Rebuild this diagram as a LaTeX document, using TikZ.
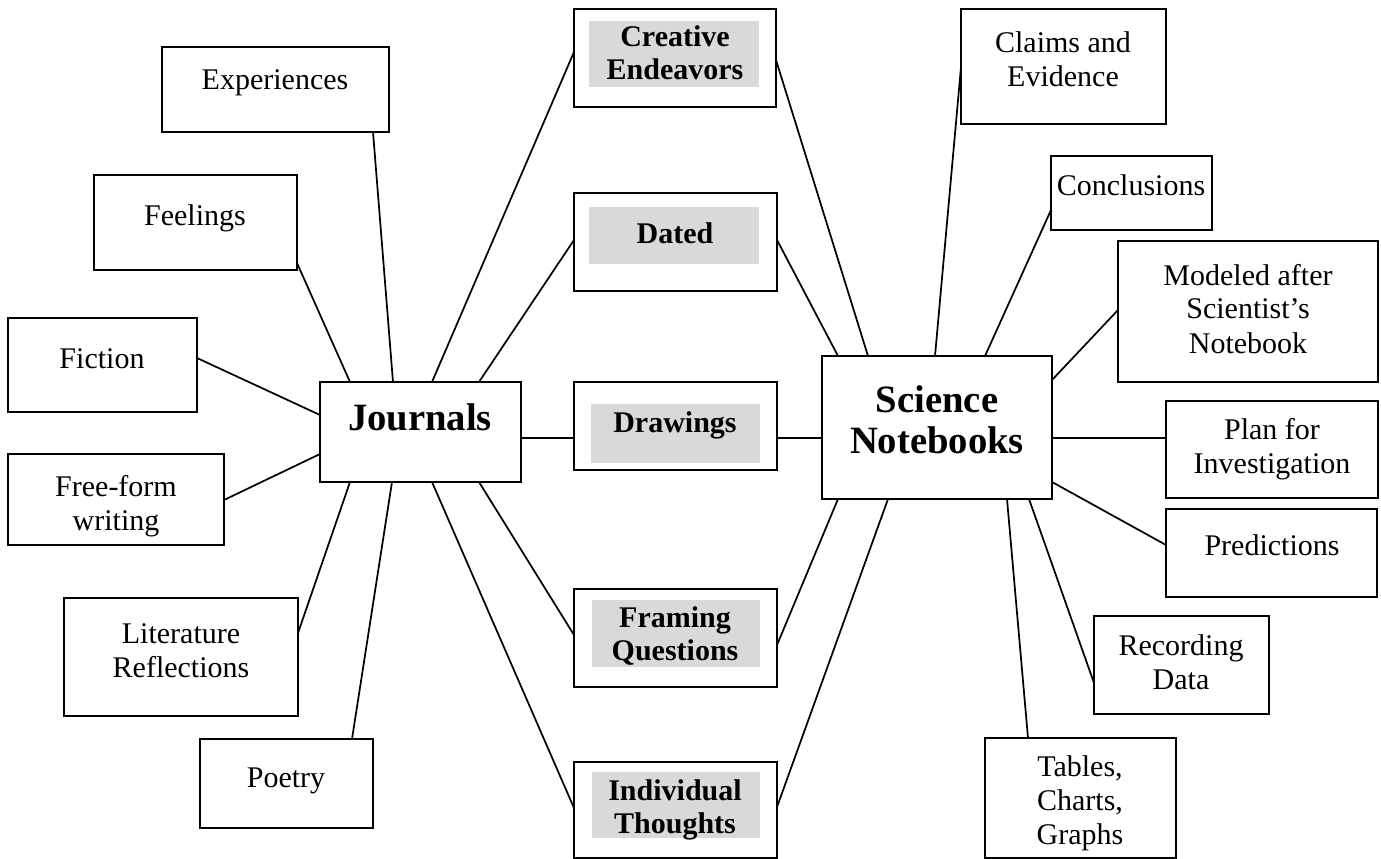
\documentclass[tikz,border=0pt]{standalone}
\usepackage{fontspec}
\setmainfont{Liberation Serif}
\usetikzlibrary{calc}
\definecolor{shadegray}{HTML}{D9D9D9}
\newcommand\mkbox[5]{\node[box, minimum width={(#4-#2)*0.75pt}, minimum height={(#5-#3)*0.75pt}] (#1) at ({(#2+#4)/2},{(#3+#5)/2}) {};}
\newcommand\mkshade[4]{\fill[shadegray] (#1,#2) rectangle (#3,#4);}
\begin{document}
\begin{tikzpicture}[x=0.75pt,y=-0.75pt,
  box/.style={draw=black, line width=1.6pt, fill=none, inner sep=0pt, outer sep=0pt},
  conn/.style={draw=black, line width=1.3pt},
  txt/.style={anchor=base, inner sep=0pt, align=center, font=\fontsize{22.5}{25.5}\selectfont},
  btxt/.style={anchor=base, inner sep=0pt, align=center, font=\fontsize{22.5}{24.75}\selectfont\bfseries},
  bigtxt/.style={anchor=base, inner sep=0pt, align=center, font=\fontsize{29}{30.75}\selectfont\bfseries}]
\useasboundingbox (0,0) rectangle (1381,859);
\fill[white] (0,0) rectangle (1381,859);
% shaded backgrounds of the middle boxes
\mkshade{589}{21}{759}{87}
\mkshade{589}{207}{759}{264}
\mkshade{591}{404}{760}{463}
\mkshade{592}{600}{760}{667}
\mkshade{592}{772}{760}{838}
% boxes
\mkbox{exp}{162}{47}{389}{132}
\mkbox{feel}{94}{175}{297}{270}
\mkbox{fic}{8}{318}{197}{412}
\mkbox{free}{8}{454}{224}{545}
\mkbox{lit}{64}{598}{298}{716}
\mkbox{poetry}{200}{739}{373}{828}
\mkbox{J}{320}{382}{521}{482}
\mkbox{cre}{574}{9}{776}{107}
\mkbox{dated}{574}{193}{777}{291}
\mkbox{draw}{574}{382}{777}{470}
\mkbox{fram}{574}{589}{777}{687}
\mkbox{indiv}{574}{762}{777}{858}
\mkbox{SN}{822}{356}{1052}{499}
\mkbox{claims}{961}{9}{1166}{124}
\mkbox{concl}{1051}{156}{1212}{230}
\mkbox{model}{1118}{241}{1378}{382}
\mkbox{plan}{1166}{401}{1378}{498}
\mkbox{pred}{1166}{509}{1377}{597}
\mkbox{rec}{1094}{616}{1269}{714}
\mkbox{tables}{985}{738}{1176}{858}
% texts (anchor = baseline of the last line)
\node[txt] (exp-t) at (275,90) {Experiences};
\node[txt] (feel-t) at (195,226) {Feelings};
\node[txt] (fic-t) at (102,368) {Fiction};
\node[txt] (free-t) at (116,530) {Free-form\\writing};
\node[txt] (lit-t) at (181,677) {Literature\\Reflections};
\node[txt] (poetry-t) at (286,787) {Poetry};
\node[bigtxt] (J-t) at (420,430) {Journals};
\node[btxt] (cre-t) at (675,80) {Creative\\Endeavors};
\node[btxt] (dated-t) at (675,244) {Dated};
\node[btxt] (draw-t) at (675,432) {Drawings};
\node[btxt] (fram-t) at (675,660) {Framing\\Questions};
\node[btxt] (indiv-t) at (675,833) {Individual\\Thoughts};
\node[bigtxt] (SN-t) at (937,453) {Science\\Notebooks};
\node[txt] (claims-t) at (1063,87) {Claims and\\Evidence};
\node[txt] (concl-t) at (1131,196) {Conclusions};
\node[txt] (model-t) at (1248,353) {Modeled after\\Scientist’s\\Notebook};
\node[txt] (plan-t) at (1272,473) {Plan for\\Investigation};
\node[txt] (pred-t) at (1272,555) {Predictions};
\node[txt] (rec-t) at (1181,689) {Recording\\Data};
\node[txt] (tables-t) at (1080,844) {Tables,\\Charts,\\Graphs};
% connectors: Journals
\draw[conn] ($(exp.south west)+(211,0)$) -- ($(J.north west)+(73,0)$);
\draw[conn] ($(feel.north east)+(0,88)$) -- ($(J.north west)+(30,0)$);
\draw[conn] ($(fic.north east)+(0,40)$) -- ($(J.north west)+(0,33)$);
\draw[conn] ($(free.north east)+(0,46)$) -- ($(J.north west)+(0,72)$);
\draw[conn] ($(lit.north east)+(0,35)$) -- ($(J.south west)+(30,0)$);
\draw[conn] ($(poetry.north west)+(152,0)$) -- ($(J.south west)+(72,0)$);
\draw[conn] ($(J.north west)+(112,0)$) -- ($(cre.north west)+(0,43)$);
\draw[conn] ($(J.north west)+(159,0)$) -- ($(dated.north west)+(0,47)$);
\draw[conn] ($(J.north east)+(0,56)$) -- ($(draw.north west)+(0,56)$);
\draw[conn] ($(J.south west)+(159,0)$) -- ($(fram.north west)+(0,46)$);
\draw[conn] ($(J.south west)+(112,0)$) -- ($(indiv.north west)+(0,46)$);
% connectors: Science Notebooks
\draw[conn] ($(cre.north east)+(0,51)$) -- ($(SN.north west)+(46,0)$);
\draw[conn] ($(dated.north east)+(0,47)$) -- ($(SN.north west)+(16,0)$);
\draw[conn] ($(draw.north east)+(0,56)$) -- ($(SN.north west)+(0,82)$);
\draw[conn] ($(fram.north east)+(0,56)$) -- ($(SN.south west)+(16,0)$);
\draw[conn] ($(indiv.north east)+(0,45)$) -- ($(SN.south west)+(66,0)$);
\draw[conn] ($(claims.north west)+(0,58)$) -- ($(SN.north west)+(113,0)$);
\draw[conn] ($(concl.north west)+(0,54)$) -- ($(SN.north west)+(163,0)$);
\draw[conn] ($(model.north west)+(0,69)$) -- ($(SN.north east)+(0,24)$);
\draw[conn] ($(SN.north east)+(0,82)$) -- ($(plan.north west)+(0,37)$);
\draw[conn] ($(SN.north east)+(0,126)$) -- ($(pred.north west)+(0,36)$);
\draw[conn] ($(SN.south west)+(207,0)$) -- ($(rec.north west)+(0,67)$);
\draw[conn] ($(SN.south west)+(185,0)$) -- ($(tables.north west)+(43,0)$);
\end{tikzpicture}
\end{document}
